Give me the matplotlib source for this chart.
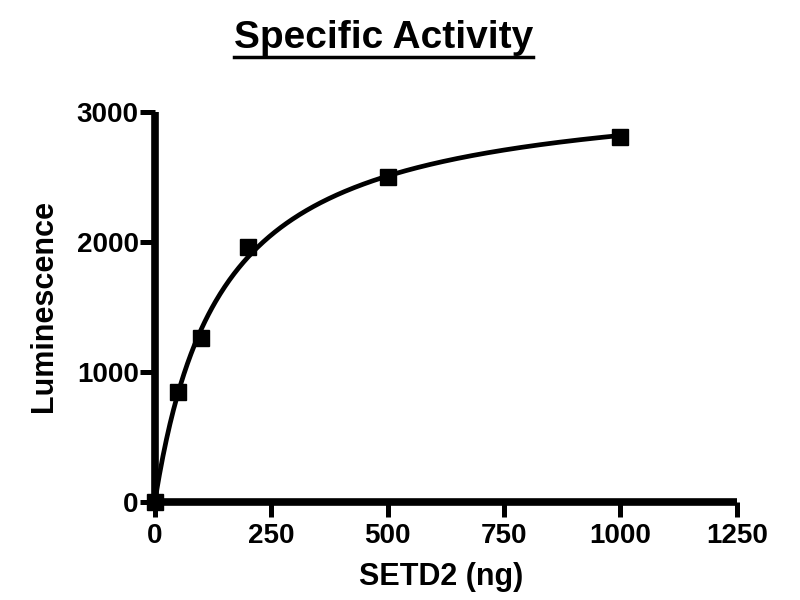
import numpy as np
import matplotlib
matplotlib.use('Agg')
import matplotlib.pyplot as plt
from matplotlib.lines import Line2D

# SETD2 amount (ng) vs luminescence
setd2_ng = [0, 50, 100, 200, 500, 1000]
luminescence = [0, 850, 1260, 1960, 2500, 2810]
x_ticks = [0, 250, 500, 750, 1000, 1250]
y_ticks = [0, 1000, 2000, 3000]

plt.rcParams['font.family'] = ['Liberation Sans', 'DejaVu Sans']
plt.rcParams['font.weight'] = 'bold'

x = np.array(setd2_ng, dtype=float)
y = np.array(luminescence, dtype=float)

# one-site hyperbola fit: Y = Bmax*X/(Kd+X), least squares over Kd
best = None
for kd in np.linspace(1, 1000, 20000):
    f = x / (kd + x)
    bmax = (y * f).sum() / (f * f).sum()
    sse = ((y - bmax * f) ** 2).sum()
    if best is None or sse < best[0]:
        best = (sse, kd, bmax)
_, kd, bmax = best
xs = np.linspace(0, 1000, 400)
ys = bmax * xs / (kd + xs)

fig = plt.figure(figsize=(8, 6), dpi=100)
ax = fig.add_axes([0.1935, 0.163, 0.7275, 0.65])

ax.plot(xs, ys, color='black', lw=3.4, solid_capstyle='round', clip_on=False)
ax.plot(x, y, 's', color='black', ms=12, clip_on=False, zorder=5)

ax.set_xlim(0, 1250)
ax.set_ylim(0, 3000)
ax.set_xticks(x_ticks)
ax.set_yticks(y_ticks)
ax.tick_params(axis='both', direction='out', length=11, width=3.6,
               labelsize=20, color='black')
ax.tick_params(axis='y', pad=0.5)
ax.tick_params(axis='x', pad=4)
for lab in ax.get_xticklabels() + ax.get_yticklabels():
    lab.set_fontweight('bold')

for side in ['top', 'right']:
    ax.spines[side].set_visible(False)
for side in ['left', 'bottom']:
    ax.spines[side].set_linewidth(5.5)
    ax.spines[side].set_capstyle('butt')

ax.set_xlabel('SETD2 (ng)', fontsize=22, fontweight='bold')
ax.set_ylabel('Luminescence', fontsize=22, fontweight='bold')
ax.xaxis.set_label_coords(0.492, -0.153)
ax.yaxis.set_label_coords(-0.165, 0.503)

title = fig.text(0.479, 0.92, 'Specific Activity', fontsize=28,
                 fontweight='bold', ha='center', va='baseline')

# underline the title
fig.canvas.draw()
bb = title.get_window_extent().transformed(fig.transFigure.inverted())
fig.add_artist(Line2D([bb.x0, bb.x1], [0.905, 0.905], color='black',
                      lw=2.5, transform=fig.transFigure))

fig.savefig('out.png', dpi=100)
